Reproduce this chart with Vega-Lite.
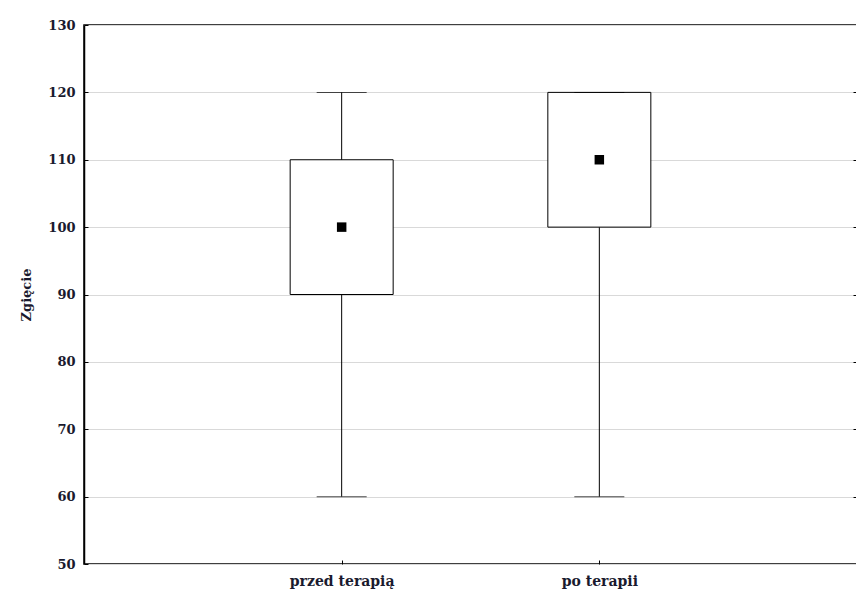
{
  "$schema": "https://vega.github.io/schema/vega-lite/v6.json",
  "width": 773,
  "height": 539,
  "autosize": {"type": "none"},
  "padding": {"left": 84, "top": 25, "right": 0, "bottom": 31},
  "background": "white",
  "config": {
    "view": {"stroke": "black", "strokeWidth": 1.5},
    "axis": {
      "labelFont": "DejaVu Serif",
      "labelFontWeight": "bold",
      "labelFontSize": 13,
      "labelColor": "#1a1a2e",
      "titleFont": "DejaVu Serif",
      "titleFontWeight": "bold",
      "titleFontSize": 13,
      "titleColor": "#1a1a2e",
      "domainColor": "black",
      "tickColor": "black"
    }
  },
  "data": {
    "values": [
      {"grupa": "przed terapią", "min": 60, "q1": 90, "median": 100, "q3": 110, "max": 120},
      {"grupa": "po terapii", "min": 60, "q1": 100, "median": 110, "q3": 120, "max": 120}
    ]
  },
  "encoding": {
    "x": {
      "field": "grupa",
      "type": "nominal",
      "sort": ["przed terapią", "po terapii"],
      "scale": {"type": "point", "padding": 1},
      "axis": {"title": null, "labelAngle": 0, "labelFontSize": 14, "tickSize": -4, "labelPadding": 14, "domain": false, "grid": false}
    }
  },
  "layer": [
    {
      "mark": {"type": "rule", "color": "black", "strokeWidth": 1},
      "encoding": {
        "y": {
          "field": "min",
          "type": "quantitative",
          "scale": {"domain": [50, 130], "nice": false},
          "axis": {
            "title": "Zgięcie",
            "values": [50, 60, 70, 80, 90, 100, 110, 120, 130],
            "tickSize": -4,
            "labelPadding": 13,
            "titlePadding": 14,
            "grid": true,
            "gridColor": "#d9d9d9",
            "gridWidth": 1,
            "domainWidth": 1.5
          }
        },
        "y2": {"field": "max"}
      }
    },
    {
      "mark": {"type": "bar", "size": 103, "fill": "white", "stroke": "black", "strokeWidth": 1},
      "encoding": {
        "y": {"field": "q1", "type": "quantitative"},
        "y2": {"field": "q3"}
      }
    },
    {
      "mark": {"type": "tick", "size": 50, "thickness": 1, "color": "black"},
      "encoding": {"y": {"field": "min", "type": "quantitative"}}
    },
    {
      "mark": {"type": "tick", "size": 50, "thickness": 1, "color": "black"},
      "encoding": {"y": {"field": "max", "type": "quantitative"}}
    },
    {
      "mark": {"type": "point", "shape": "square", "size": 90, "filled": true, "color": "black", "opacity": 1},
      "encoding": {"y": {"field": "median", "type": "quantitative"}}
    },
    {
      "mark": {"type": "rule", "opacity": 0},
      "encoding": {
        "y": {
          "field": "median",
          "type": "quantitative",
          "axis": {
            "orient": "right",
            "title": null,
            "labels": false,
            "domain": false,
            "grid": false,
            "values": [60, 70, 80, 90, 100, 110, 120],
            "tickSize": -4
          }
        }
      }
    }
  ],
  "resolve": {"axis": {"y": "independent"}}
}
